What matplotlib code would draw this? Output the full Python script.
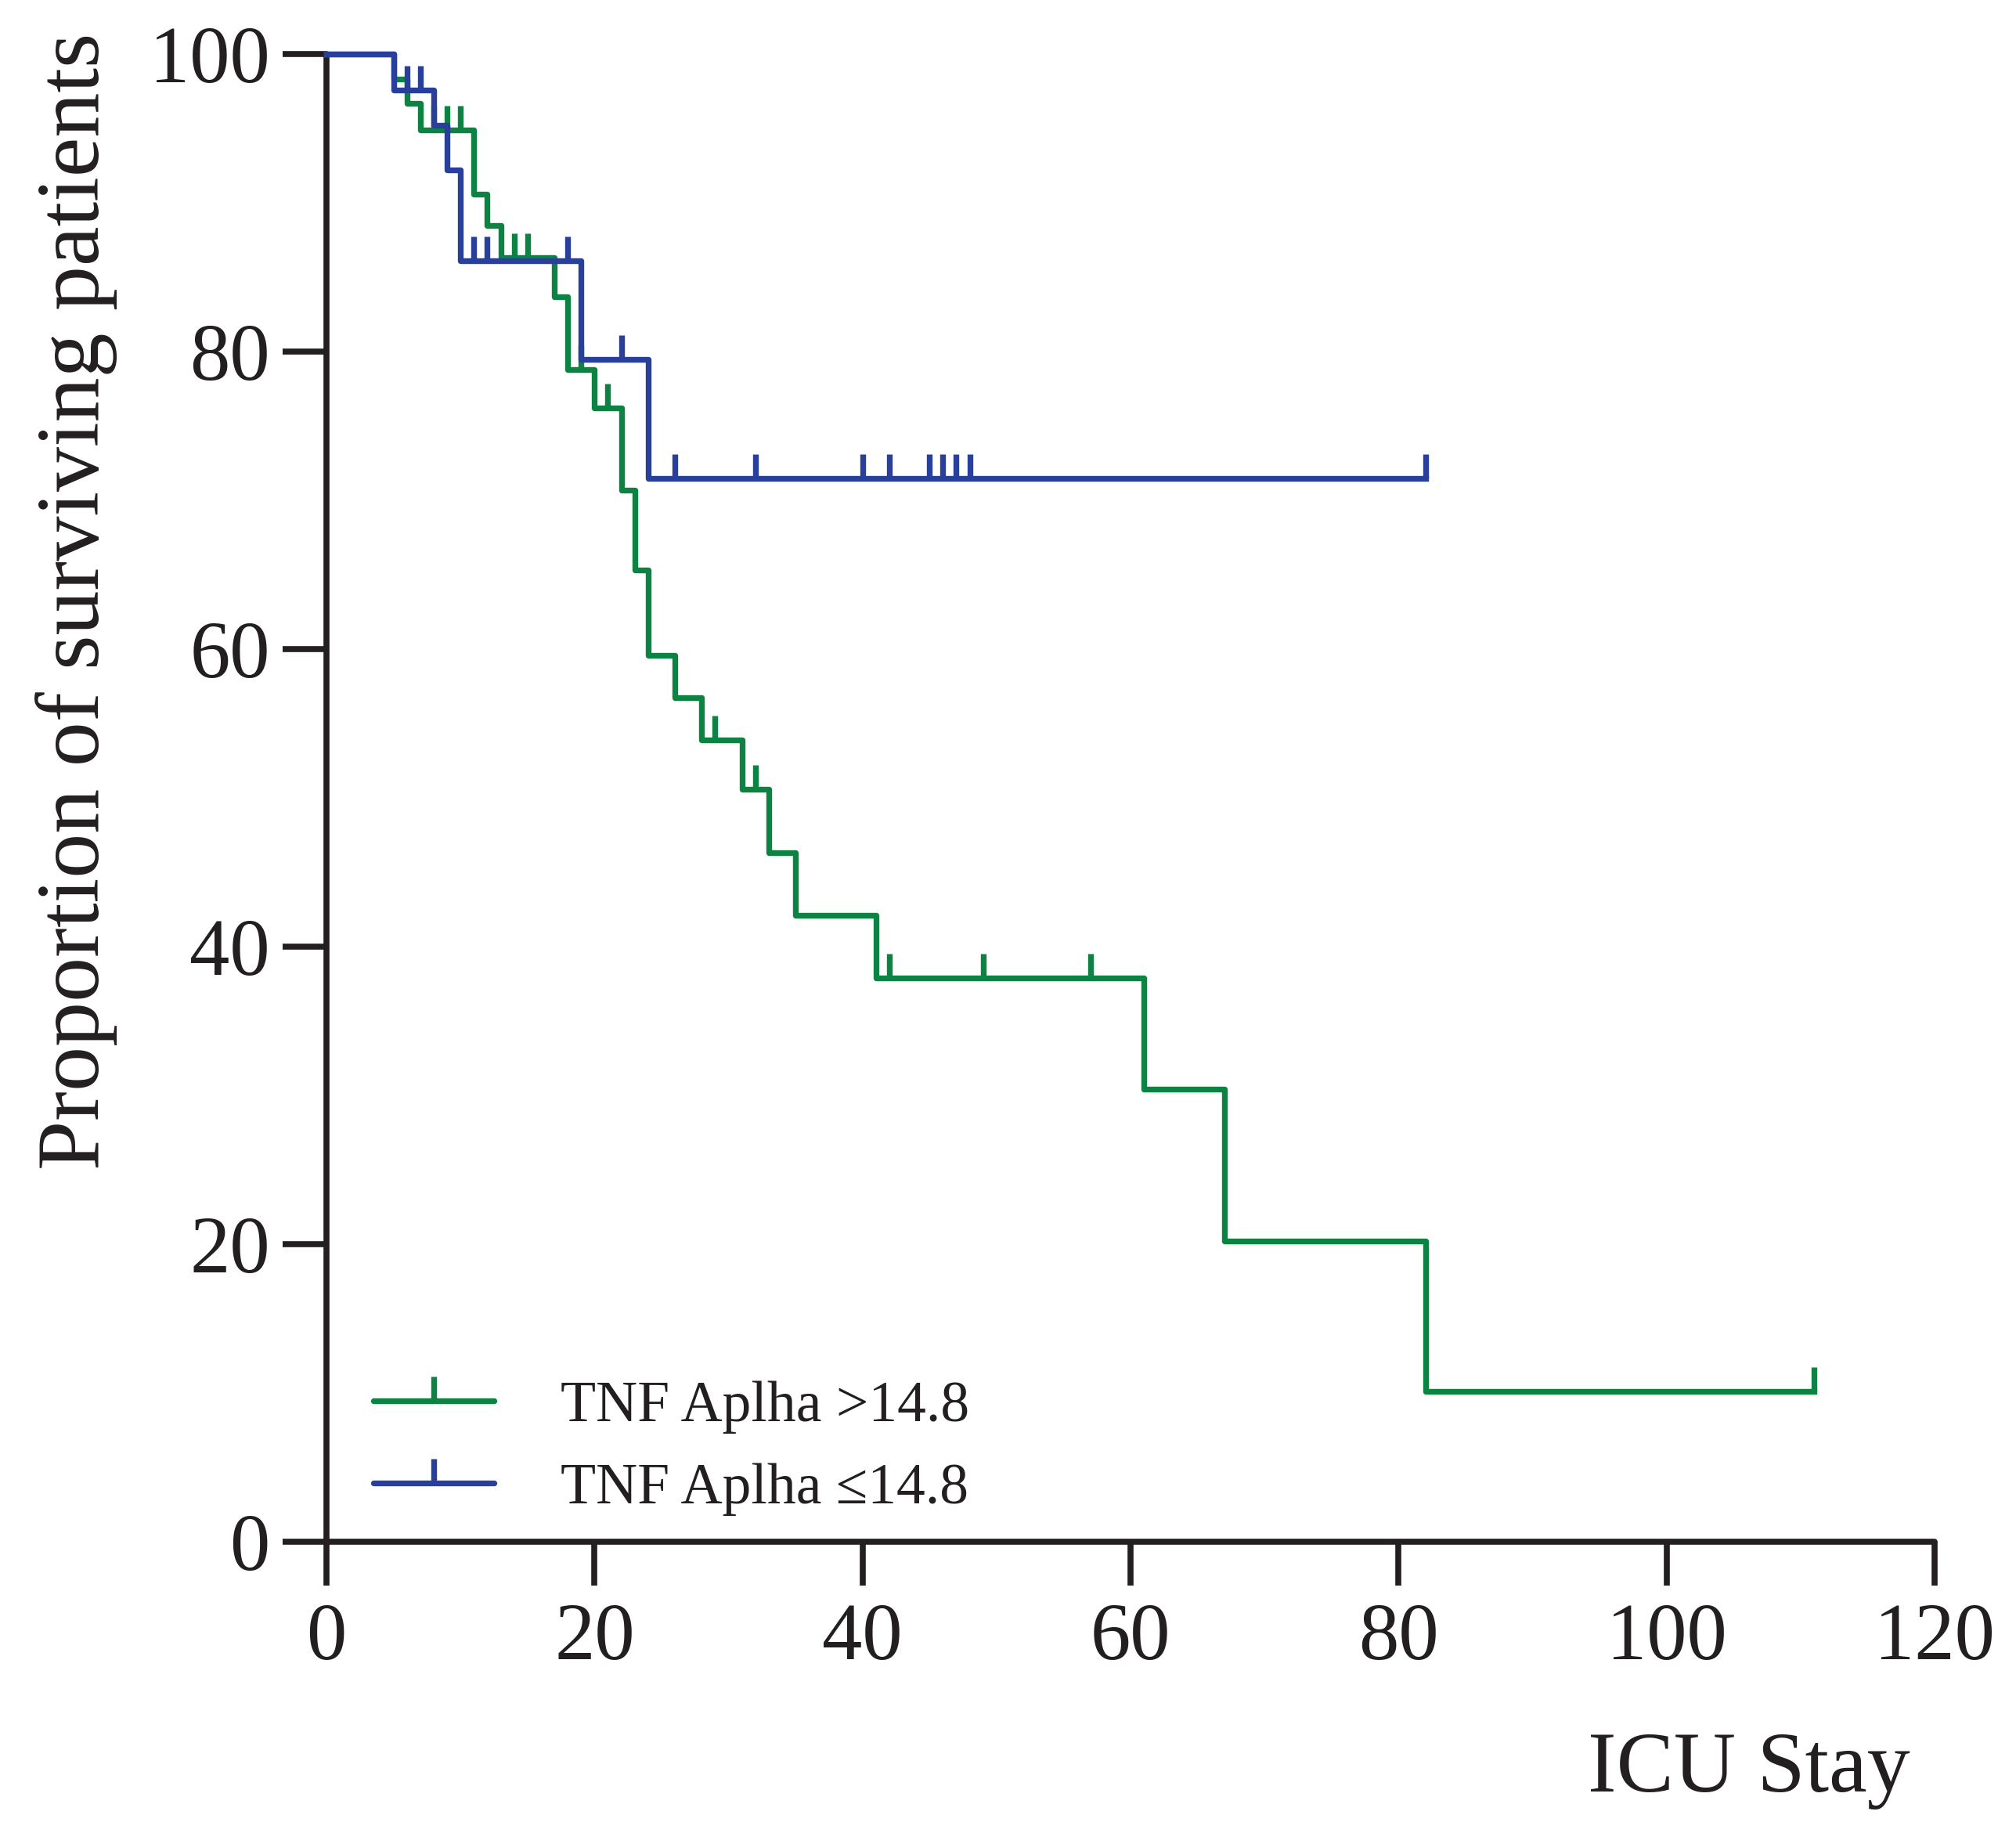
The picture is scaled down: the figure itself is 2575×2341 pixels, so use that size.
import numpy as np
import matplotlib
matplotlib.use("Agg")
import matplotlib.pyplot as plt
from matplotlib.path import Path
from matplotlib.lines import Line2D

# Kaplan-Meier data (days, % surviving)
high_times = [0, 5, 6, 7, 11, 12, 13, 17, 18, 20, 22, 23, 24, 26, 28, 31, 33, 35, 41, 61, 67, 82]
high_surv = [100, 98.3, 96.7, 94.9, 90.6, 88.5, 86.3, 83.7, 78.8, 76.2, 70.7, 65.3, 59.6,
             56.75, 53.9, 50.6, 46.3, 42.1, 37.9, 30.4, 20.2, 10.1]
high_end = 111
high_censor = [8, 9, 10, 14, 15, 19, 21, 29, 32, 42, 49, 57, 111]

low_times = [0, 5, 8, 9, 10, 19, 24]
low_surv = [100, 97.6, 95.2, 92.2, 86.1, 79.5, 71.5]
low_end = 82
low_censor = [6, 7, 11, 12, 18, 22, 26, 32, 40, 42, 45, 46, 47, 48, 82]

labels = ["TNF Aplha >14.8", "TNF Aplha \u226414.8"]
xticks = [0, 20, 40, 60, 80, 100, 120]
yticks = [0, 20, 40, 60, 80, 100]

green = "#0c8243"
blue = "#28409a"
black = "#231f20"

plt.rcParams["font.family"] = ["Liberation Serif", "DejaVu Serif"]

# tick marker that only points upward from the curve
tick = Path([(0, 0), (0, 1)], [Path.MOVETO, Path.LINETO])


def level(times, surv, t):
    i = np.searchsorted(times, t, side="right") - 1
    return np.array(surv)[i]


fig = plt.figure(figsize=(25.75, 23.41), dpi=100)
ax = fig.add_axes([417 / 2575, 372 / 2341, (2471 - 417) / 2575, (2272 - 372) / 2341])

lw = 5.3
ms = 44
for times, surv, end, cens, col in [
    (high_times, high_surv, high_end, high_censor, green),
    (low_times, low_surv, low_end, low_censor, blue),
]:
    xs = list(times) + [end]
    ys = list(surv) + [surv[-1]]
    ax.step(xs, ys, where="post", color=col, lw=lw, clip_on=False, zorder=3)
    cy = [level(times, surv, t) for t in cens]
    ax.plot(cens, cy, ls="none", marker=tick, ms=ms, mew=lw, mec=col,
            mfc="none", clip_on=False, zorder=3)

ax.set_xlim(0, 120)
ax.set_ylim(0, 100)
ax.set_xticks(xticks)
ax.set_yticks(yticks)
ax.tick_params(direction="out", length=40, width=5.5, color=black,
               labelsize=74, labelcolor=black)
ax.tick_params(axis="x", pad=16)
ax.tick_params(axis="y", pad=12)
for s in ["top", "right"]:
    ax.spines[s].set_visible(False)
for s in ["left", "bottom"]:
    ax.spines[s].set_linewidth(5.5)
    ax.spines[s].set_color(black)
    ax.spines[s].set_capstyle("round")

handles = [
    Line2D([], [], color=green, lw=lw, marker=tick, ms=ms, mew=lw, mfc="none",
           solid_capstyle="round"),
    Line2D([], [], color=blue, lw=lw, marker=tick, ms=ms, mew=lw, mfc="none",
           solid_capstyle="round"),
]
ax.legend(handles, labels, loc="center left", bbox_to_anchor=(0.029, 0.063),
          frameon=False, fontsize=53, handlelength=2.1, handletextpad=1.15,
          labelspacing=0.51, borderpad=0, borderaxespad=0, labelcolor=black)

fig.text(0.0377, 1 - 767.5 / 2341, "Proportion of surviving patients", rotation=90,
         ha="center", va="center", fontsize=82, color=black)
fig.text(2440 / 2575, 1 - 2288 / 2341, "ICU Stay", ha="right", va="baseline",
         fontsize=79, color=black)

fig.savefig("out.png", dpi=100, facecolor="white")
